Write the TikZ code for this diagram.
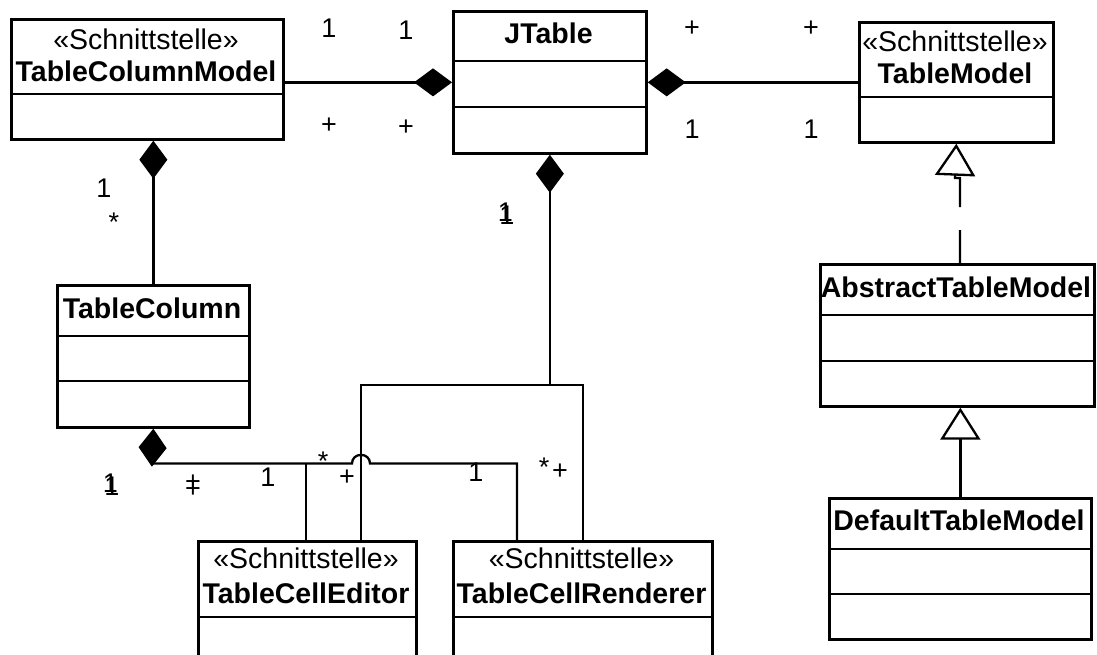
\documentclass[tikz,border=0pt]{standalone}
\usepackage{fontspec}
\setmainfont{Liberation Sans}
\usetikzlibrary{arrows.meta}

\begin{document}
\begin{tikzpicture}[x=1pt,y=-1pt,
  classbox/.style={draw, line width=2.7pt, inner sep=0pt, anchor=north west},
  divider/.style={line width=2.7pt},
  stereo/.style={font=\fontsize{28.5}{30}\selectfont, inner sep=0pt, anchor=base},
  cname/.style={font=\fontsize{28.5}{30}\selectfont\bfseries, inner sep=0pt, anchor=base},
  mult/.style={font=\fontsize{27}{27}\selectfont, inner sep=0pt},
  assoc/.style={line width=2.3pt},
  comp/.style={assoc, {Diamond[length=38pt,width=28pt,fill=black]}-},
  gen/.style={assoc, -{Triangle[length=32pt,width=40pt,fill=white]}},
  realize/.style={gen, dash pattern=on 33pt off 23pt on 60pt off 10pt}]

\useasboundingbox (0,0) rectangle (1097,654);
\clip (0,0) rectangle (1097,654);

% class boxes (outer frames)
\node[classbox, minimum width=272pt, minimum height=120pt] (tcm) at (10,18) {};
\node[classbox, minimum width=193pt, minimum height=142pt] (jt) at (452,10) {};
\node[classbox, minimum width=194pt, minimum height=120pt] (tm) at (858,21) {};
\node[classbox, minimum width=192pt, minimum height=142pt] (tc) at (56,284) {};
\node[classbox, minimum width=274pt, minimum height=142pt] (atm) at (819,263) {};
\node[classbox, minimum width=262pt, minimum height=141pt] (dtm) at (828,497) {};
\node[classbox, minimum width=218pt, minimum height=170pt] (tce) at (197,540) {};
\node[classbox, minimum width=259pt, minimum height=170pt] (tcr) at (452,540) {};

% compartment lines
\coordinate (h94) at (0,94);
\coordinate (h61) at (0,61);   \coordinate (h107) at (0,107);
\coordinate (h97) at (0,97);
\coordinate (h336) at (0,336); \coordinate (h381) at (0,381);
\coordinate (h315) at (0,315); \coordinate (h361) at (0,361);
\coordinate (h549) at (0,549); \coordinate (h594) at (0,594);
\coordinate (h617) at (0,617);
\draw[divider] (tcm.west |- h94) -- (tcm.east |- h94);
\draw[divider] (jt.west |- h61) -- (jt.east |- h61);
\draw[divider] (jt.west |- h107) -- (jt.east |- h107);
\draw[divider] (tm.west |- h97) -- (tm.east |- h97);
\draw[divider] (tc.west |- h336) -- (tc.east |- h336);
\draw[divider] (tc.west |- h381) -- (tc.east |- h381);
\draw[divider] (atm.west |- h315) -- (atm.east |- h315);
\draw[divider] (atm.west |- h361) -- (atm.east |- h361);
\draw[divider] (dtm.west |- h549) -- (dtm.east |- h549);
\draw[divider] (dtm.west |- h594) -- (dtm.east |- h594);
\draw[divider] (tce.west |- h617) -- (tce.east |- h617);
\draw[divider] (tcr.west |- h617) -- (tcr.east |- h617);

% class names
\node[stereo] (tcm-s) at (146,49) {«Schnittstelle»};
\node[cname]  (tcm-n) at (146,81) {TableColumnModel};
\node[cname]  (jt-n)  at (548.5,43) {JTable};
\node[stereo] (tm-s)  at (955,51) {«Schnittstelle»};
\node[cname]  (tm-n)  at (955,83) {TableModel};
\node[cname]  (tc-n)  at (152,318) {TableColumn};
\node[cname]  (atm-n) at (956,297) {AbstractTableModel};
\node[cname]  (dtm-n) at (959,530) {DefaultTableModel};
\node[stereo] (tce-s) at (306,568) {«Schnittstelle»};
\node[cname]  (tce-n) at (306,603) {TableCellEditor};
\node[stereo] (tcr-s) at (581.5,568) {«Schnittstelle»};
\node[cname]  (tcr-n) at (581.5,603) {TableCellRenderer};

% compositions of JTable
\draw[comp] (jt.west) -- (jt.west -| tcm.east);
\draw[comp] (jt.east) -- (jt.east -| tm.west);
\draw[comp] (tcm.south -| tc.north) -- (tc.north);

% JTable to the cell editor and renderer
\coordinate (jl) at (361,385);
\coordinate (jr) at (583,385);
\draw[comp] (jt.south) |- (jl) -- (jl |- tce.north);
\draw[assoc] (jl) -- (jr) -- (jr |- tcr.north);

% TableColumn to the cell editor and renderer, hopping over the line above
\coordinate (tb) at (152,463.5);
\coordinate (hopa) at (352,463.5);
\coordinate (hopb) at (370,463.5);
\coordinate (rb) at (517,463.5);
\coordinate (eb) at (306,463.5);
\draw[comp] (tc.south) -- (tb) -- (hopa)
  .. controls (352,452) and (370,452) .. (hopb) -- (rb) -- (rb |- tcr.north);
\draw[assoc] (eb) -- (eb |- tce.north);

% generalizations
\coordinate (gx) at (960,0);
\coordinate (gj1) at (960,178);
\coordinate (gj2) at (955,178);
\draw[realize] (atm.north -| gx) -- (gj1) -- (gj2) -- (tm.south);
\draw[gen] (dtm.north) -- (dtm.north |- atm.south);

% multiplicities
\node[mult] (m1) at (329,28) {1};
\node[mult] (m2) at (406,30) {1};
\node[mult] (m3) at (329,126) {+};
\node[mult] (m4) at (406,128) {+};
\node[mult] (m5) at (692,29) {+};
\node[mult] (m6) at (811,29) {+};
\node[mult] (m7) at (692,129) {1};
\node[mult] (m8) at (811,129) {1};
\node[mult] (m9) at (104,188) {1};
\node[mult] (m10) at (114,222) {*};
\node[mult] (m11) at (507,215) {1};
\node[mult] (m11b) at (505.5,212.5) {1};
\node[mult] (m12) at (112,486) {1};
\node[mult] (m12b) at (110.5,483.5) {1};
\node[mult] (m13) at (193,483) {+};
\node[mult] (m13b) at (193,490) {+};
\node[mult] (m14) at (268,477) {1};
\node[mult] (m15) at (323,461) {*};
\node[mult] (m16) at (347,478) {+};
\node[mult] (m17) at (476,472) {1};
\node[mult] (m18) at (544,467) {*};
\node[mult] (m19) at (560,472) {+};
\end{tikzpicture}
\end{document}
